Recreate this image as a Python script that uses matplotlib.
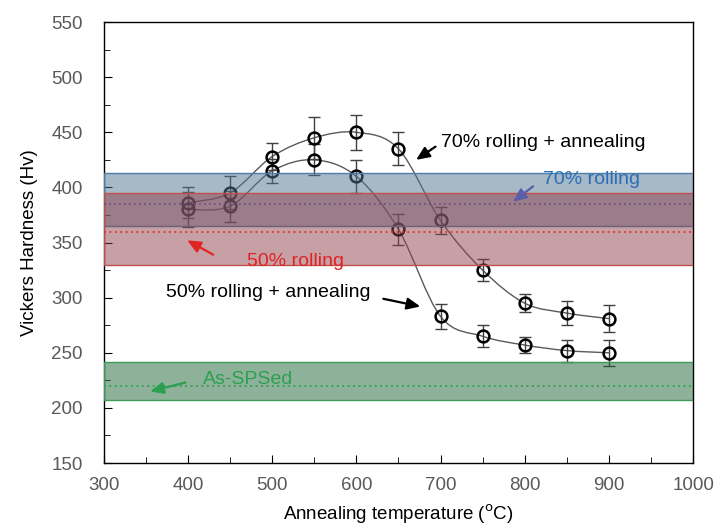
import numpy as np
import matplotlib.pyplot as plt
from matplotlib.path import Path
from matplotlib.patches import PathPatch
from matplotlib.ticker import MultipleLocator

plt.rcParams['font.family'] = ['Liberation Sans', 'DejaVu Sans']

# annealing temperatures (C)
temp = [400, 450, 500, 550, 600, 650, 700, 750, 800, 850, 900]
# 70% rolling + annealing
hv70 = [386, 395, 428, 445, 450, 435, 370, 325, 295, 286, 281]
err70 = [14, 15, 12, 19, 16, 15, 12, 10, 8, 11, 12]
# 50% rolling + annealing
hv50 = [380, 383, 415, 425, 410, 362, 283, 265, 257, 252, 250]
err50 = [16, 14, 11, 14, 15, 14, 11, 10, 7, 10, 12]

# reference bands: (low, mean, high)
band70 = (365, 385, 413)
band50 = (330, 360, 395)
band_sps = (207, 220, 242)


def smooth_path(x, y):
    # excel-like smoothed line (bezier through the points)
    p = np.column_stack([x, y]).astype(float)
    pe = np.vstack([p[0], p, p[-1]])
    verts = [p[0]]
    codes = [Path.MOVETO]
    for i in range(len(p) - 1):
        c1 = pe[i + 1] + (pe[i + 2] - pe[i]) / 6
        c2 = pe[i + 2] - (pe[i + 3] - pe[i + 1]) / 6
        verts += [c1, c2, pe[i + 2]]
        codes += [Path.CURVE4] * 3
    return Path(verts, codes)


def arrow(ax, tail, head, color):
    ax.annotate('', xy=head, xytext=tail, zorder=5,
                arrowprops=dict(arrowstyle='-|>,head_length=0.5,head_width=0.22', color=color,
                                lw=1.6, shrinkA=0, shrinkB=0, mutation_scale=16))


fig = plt.figure(figsize=(7.16, 5.25), dpi=100)
ax = fig.add_axes([0.145, 0.118, 0.823, 0.840])

for hv, er in [(hv70, err70), (hv50, err50)]:
    ax.add_patch(PathPatch(smooth_path(temp, hv), fc='none', ec='#5a5a5a', lw=1, zorder=2))
    ax.errorbar(temp, hv, yerr=er, fmt='none', ecolor='#404040', elinewidth=1,
                capsize=4, capthick=1, zorder=2.2)
    ax.plot(temp, hv, 'o', ms=8.5, mfc='none', mec='black', mew=1.8, ls='none', zorder=2.5)

# bands over the data
ax.axhspan(band70[0], band70[2], fc=(81/255, 115/255, 145/255, 0.5), ec='#4f7fa8', lw=1, zorder=3)
ax.axhspan(band50[0], band50[2], fc=(143/255, 67/255, 77/255, 0.5), ec='#c0504d', lw=1, zorder=3.1)
ax.axhspan(band_sps[0], band_sps[2], fc=(31/255, 103/255, 53/255, 0.5), ec='#3d9a5a', lw=1, zorder=3)
ax.axhline(band70[1], color='#6a4a8a', ls=(0, (1, 2)), lw=1.2, zorder=3.5)
ax.axhline(band50[1], color='#e03030', ls=(0, (1, 2)), lw=1.3, zorder=3.5)
ax.axhline(band_sps[1], color='#2aa050', ls=(0, (1, 2)), lw=1.3, zorder=3.5)

# labels and arrows
fs = 14
ax.text(701, 441, '70% rolling + annealing', fontsize=fs, color='black', ha='left', va='center', zorder=5)
arrow(ax, (694, 437), (671, 425), 'black')
ax.text(879, 407, '70% rolling', fontsize=fs, color='#2a6fb4', ha='center', va='center', zorder=5)
arrow(ax, (810, 401), (786, 387), '#5b5ea6')
ax.text(528, 333, '50% rolling', fontsize=fs, color='#e02424', ha='center', va='center', zorder=5)
arrow(ax, (430, 339), (399, 352), '#e02424')
ax.text(617, 305, '50% rolling + annealing', fontsize=fs, color='black', ha='right', va='center', zorder=5)
arrow(ax, (632, 299), (676, 292), 'black')
ax.text(418, 226, 'As-SPSed', fontsize=fs, color='#2aa050', ha='left', va='center', zorder=5)
arrow(ax, (397, 223), (355, 215), '#2aa050')

ax.set_xlim(300, 1000)
ax.set_ylim(150, 550)
ax.xaxis.set_major_locator(MultipleLocator(100))
ax.xaxis.set_minor_locator(MultipleLocator(50))
ax.yaxis.set_major_locator(MultipleLocator(50))
ax.yaxis.set_minor_locator(MultipleLocator(25))
ax.tick_params(which='both', direction='in', labelsize=13.5, labelcolor='#595959', color='black')
ax.tick_params(which='major', length=6)
ax.tick_params(which='minor', length=4)
ax.tick_params(axis='x', pad=10)
ax.tick_params(axis='y', pad=15)
for s in ax.spines.values():
    s.set_linewidth(1)
ax.set_xlabel(r'Annealing temperature ($^{\rm o}$C)', fontsize=13.5, labelpad=6)
ax.set_ylabel('Vickers Hardness (Hv)', fontsize=13.5, labelpad=10)

plt.savefig('out.png', dpi=100)
